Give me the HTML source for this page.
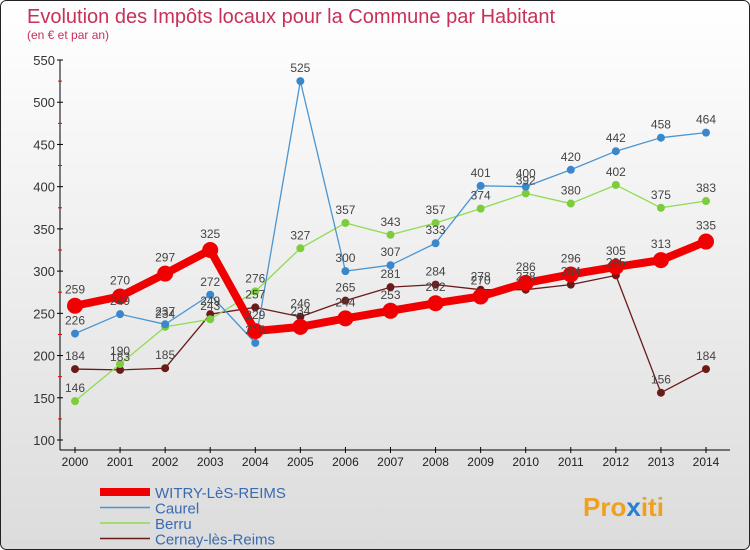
<!DOCTYPE html>
<html><head><meta charset="utf-8">
<style>
body{margin:0;padding:0}
#wrap{position:relative;width:750px;height:550px;overflow:hidden;font-family:"Liberation Sans",sans-serif}
</style></head>
<body>
<div id="wrap">
<svg id="chart" width="750" height="550" xmlns="http://www.w3.org/2000/svg">
<defs>
<linearGradient id="bg" x1="0" y1="0" x2="0" y2="1">
<stop offset="0" stop-color="#ffffff"/><stop offset="1" stop-color="#dcdcdc"/>
</linearGradient>
</defs>
<rect x="0.5" y="0.5" width="749" height="549" rx="6" fill="url(#bg)" stroke="#222"/>
<text x="27" y="23" font-size="20" fill="#c8305a">Evolution des Impôts locaux pour la Commune par Habitant</text>
<text x="27" y="39" font-size="12" fill="#c8305a">(en € et par an)</text>
<g id="axes"></g>
<g id="series"></g>
<g id="legend"></g>
<text x="583" y="516" font-size="26" font-weight="bold" fill="#f0a020">Pro<tspan fill="#2a7fd0">x</tspan>iti</text>
</svg>
</div>
<script>
const years = [2000,2001,2002,2003,2004,2005,2006,2007,2008,2009,2010,2011,2012,2013,2014];
const yTicks = [100,150,200,250,300,350,400,450,500,550];
const seriesNames = ["WITRY-LèS-REIMS","Caurel","Berru","Cernay-lès-Reims"];
const witry = [259,270,297,325,229,234,244,253,262,270,286,296,305,313,335];
const caurel = [226,249,237,272,215,525,300,307,333,401,400,420,442,458,464];
const berru = [146,190,234,243,276,327,357,343,357,374,392,380,402,375,383];
const cernay = [184,183,185,249,257,246,265,281,284,278,278,284,295,156,184];

const NS="http://www.w3.org/2000/svg";
const x0=75,x1=706,yTop=60,yBot=440,vMin=100,vMax=550;
function xs(i){return x0+(x1-x0)*i/(years.length-1);}
function ys(v){return yBot-(v-vMin)/(vMax-vMin)*(yBot-yTop);}
function mk(tag,attrs,parent){const e=document.createElementNS(NS,tag);for(const k in attrs)e.setAttribute(k,attrs[k]);parent.appendChild(e);return e;}
const axes=document.getElementById('axes');
const a=mk('line',{x1:60,y1:yTop,x2:60,y2:yBot+10,stroke:'#000'},axes);


yTicks.forEach((t,i)=>{
  const y=ys(t);
  const tk=mk('line',{x1:57,y1:y,x2:63,y2:y,stroke:'#000'},axes);
  
  
  const tx=mk('text',{x:55,y:y+5,'text-anchor':'end','font-size':13,fill:'#333'},axes);
  tx.textContent=t;
  
  
  if(i<yTicks.length-1){
    const m=mk('line',{x1:58,y1:ys(t+25),x2:62,y2:ys(t+25),stroke:'#e00'},axes);
    
    
  }
});
const xa=mk('line',{x1:60,y1:450,x2:730,y2:450,stroke:'#000'},axes);


years.forEach((yr,i)=>{
  const x=xs(i);
  const tk=mk('line',{x1:x,y1:447,x2:x,y2:453,stroke:'#000'},axes);
  
  
  const tx=mk('text',{x:x,y:466,'text-anchor':'middle','font-size':12,fill:'#222'},axes);
  tx.textContent=yr;
  
  
});
const sg=document.getElementById('series');
const defs=[
 {data:cernay,color:'#6b1a1a',w:1.3,r:4,name:'cernay'},
 {data:berru,color:'#8edc50',w:1.3,r:4,name:'berru'},
 {data:caurel,color:'#4b95d0',w:1.3,r:4,name:'caurel'},
 {data:witry,color:'#f00000',w:8,r:8,name:'witry'}
];
const fills={cernay:'#6b1a1a',berru:'#7ccc3c',caurel:'#3a88cc',witry:'#f00000'};
defs.forEach(d=>{
  const pts=d.data.map((v,i)=>xs(i)+','+ys(v)).join(' ');
  const pl=mk('polyline',{points:pts,fill:'none',stroke:d.color,'stroke-width':d.w,'stroke-linejoin':'round'},sg);
  
  
  d.data.forEach((v,i)=>{
    const c=mk('circle',{cx:xs(i),cy:ys(v),r:d.r,fill:fills[d.name]},sg);
    
    
  });
});
defs.forEach(d=>{
  d.data.forEach((v,i)=>{
    const t=mk('text',{x:xs(i),y:ys(v)-(d.name==='witry'?12:9),'text-anchor':'middle','font-size':12,fill:'#444'},sg);
    t.textContent=v;
    
    
  });
});
const lg=document.getElementById('legend');
const lcols=['#f00000','#4b95d0','#8edc50','#6b1a1a'];
const lw=[8,1.5,1.5,1.5];
seriesNames.forEach((n,i)=>{
  const y=492+i*15.5;
  const l=mk('line',{x1:100,y1:y,x2:150,y2:y,stroke:lcols[i],'stroke-width':lw[i]},lg);
  
  
  const t=mk('text',{x:155,y:y+6,'font-size':15,fill:'#3a6ab0'},lg);
  t.textContent=n;
  
  
});
</script>
</body></html>
